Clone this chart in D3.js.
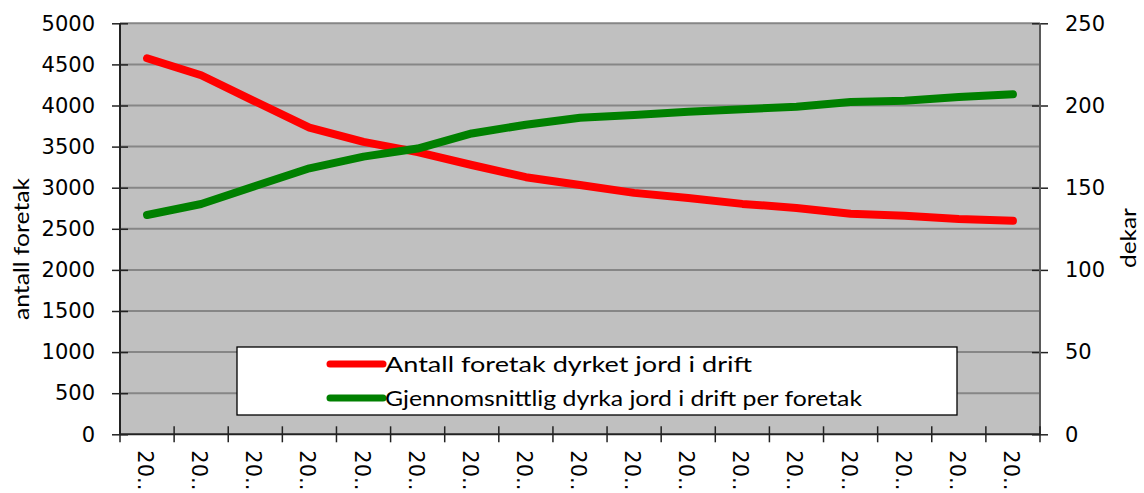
<!DOCTYPE html>
<html>
<head>
<meta charset="utf-8">
<script src="https://cdn.jsdelivr.net/npm/d3@7"></script>
<style>
  html, body { margin: 0; padding: 0; background: #fff; }
  svg { display: block; }
</style>
</head>
<body>
<svg id="chart" width="1144" height="493"></svg>
<script>
// Year labels along the category axis (truncated as displayed)
const yearLabels = ["20..", "20..", "20..", "20..", "20..", "20..", "20..", "20..", "20..",
                    "20..", "20..", "20..", "20..", "20..", "20..", "20..", "20.."];

// Number of holdings with cultivated land in use (left axis)
const antallForetak = [4575, 4368, 4048, 3732, 3558, 3432, 3276, 3128, 3033,
                       2937, 2876, 2803, 2754, 2682, 2660, 2620, 2597];

// Average cultivated area in use per holding, in decares (right axis)
const dekarPerForetak = [133.4, 140.1, 151.0, 161.8, 168.9, 173.8, 183.0, 188.3, 192.6,
                         194.2, 196.2, 197.7, 199.3, 202.1, 202.9, 205.1, 206.8];

const leftTicks = [0, 500, 1000, 1500, 2000, 2500, 3000, 3500, 4000, 4500, 5000];
const rightTicks = [0, 50, 100, 150, 200, 250];

const seriesNames = ["Antall foretak dyrket jord i drift",
                     "Gjennomsnittlig dyrka jord i drift per foretak"];
const seriesColors = ["#ff0000", "#008000"];

const svg = d3.select("#chart");
const margin = { left: 120, top: 23.3, right: 104, bottom: 58.7 };
const W = 1144, H = 493;
const pw = W - margin.left - margin.right;
const ph = H - margin.top - margin.bottom;

const idx = d3.range(yearLabels.length);
const x = d3.scaleBand().domain(idx).range([0, pw]).paddingInner(0).paddingOuter(0);
const yL = d3.scaleLinear().domain([0, 5000]).range([ph, 0]);
const yR = d3.scaleLinear().domain([0, 250]).range([ph, 0]);

const g = svg.append("g").attr("transform", `translate(${margin.left},${margin.top})`);

// plot background
g.append("rect").attr("width", pw).attr("height", ph).attr("fill", "#c0c0c0");

// horizontal gridlines
g.append("g").selectAll("line").data(leftTicks.filter(d => d > 0)).join("line")
  .attr("x1", 0).attr("x2", pw)
  .attr("y1", d => yL(d)).attr("y2", d => yL(d))
  .attr("stroke", "#868686").attr("stroke-width", 2);

const tickFont = "'DejaVu Sans', sans-serif";
const textFont = "Lato, 'Open Sans', sans-serif";
const plain = d3.format("d");

// left axis
const leftAxis = g.append("g").call(d3.axisLeft(yL).tickValues(leftTicks).tickFormat(plain)
  .tickSize(8).tickPadding(17));
leftAxis.select(".domain").remove();
leftAxis.selectAll(".tick line").attr("x2", 8).attr("x1", -8).attr("stroke", "#222").attr("stroke-width", 1.5);
leftAxis.selectAll(".tick text").attr("font-family", tickFont).attr("font-size", 21).attr("fill", "#000");
g.append("line").attr("x1", 0).attr("x2", 0).attr("y1", 0).attr("y2", ph)
  .attr("stroke", "#222").attr("stroke-width", 2);

// right axis
const rightAxis = g.append("g").attr("transform", `translate(${pw},0)`)
  .call(d3.axisRight(yR).tickValues(rightTicks).tickFormat(plain).tickSize(8).tickPadding(17));
rightAxis.select(".domain").remove();
rightAxis.selectAll(".tick line").attr("x1", -8).attr("x2", 8).attr("stroke", "#222").attr("stroke-width", 1.5);
rightAxis.selectAll(".tick text").attr("font-family", tickFont).attr("font-size", 21).attr("fill", "#000");
g.append("line").attr("x1", pw).attr("x2", pw).attr("y1", 0).attr("y2", ph)
  .attr("stroke", "#5a5a5a").attr("stroke-width", 2);

// bottom axis with ticks between categories
const bottom = g.append("g").attr("transform", `translate(0,${ph})`);
bottom.append("line").attr("x1", 0).attr("x2", pw).attr("stroke", "#222").attr("stroke-width", 2);
bottom.selectAll("line.tk").data(d3.range(yearLabels.length + 1)).join("line")
  .attr("class", "tk")
  .attr("x1", d => d * x.bandwidth()).attr("x2", d => d * x.bandwidth())
  .attr("y1", -8).attr("y2", 8)
  .attr("stroke", "#222").attr("stroke-width", 1.5);
bottom.selectAll("text").data(idx).join("text")
  .attr("transform", d => `translate(${x(d) + x.bandwidth() / 2 - 9},16) rotate(90)`)
  .attr("font-family", tickFont).attr("font-size", 21).attr("fill", "#000")
  .text(d => yearLabels[d]);

// series lines
const lineL = d3.line().x(d => x(d) + x.bandwidth() / 2).y(d => yL(antallForetak[d]));
const lineR = d3.line().x(d => x(d) + x.bandwidth() / 2).y(d => yR(dekarPerForetak[d]));

g.append("path").datum(idx).attr("d", lineL)
  .attr("fill", "none").attr("stroke", seriesColors[0]).attr("stroke-width", 8)
  .attr("stroke-linecap", "round").attr("stroke-linejoin", "round");
g.append("path").datum(idx).attr("d", lineR)
  .attr("fill", "none").attr("stroke", seriesColors[1]).attr("stroke-width", 8)
  .attr("stroke-linecap", "round").attr("stroke-linejoin", "round");

// legend
const legend = svg.append("g").attr("transform", "translate(237,347)");
legend.append("rect").attr("width", 720).attr("height", 68)
  .attr("fill", "#fff").attr("stroke", "#000").attr("stroke-width", 1.3);
const legendRows = [17, 51];
const legendWidths = [367, 477];
seriesNames.forEach((name, i) => {
  legend.append("line").attr("x1", 93).attr("x2", 146)
    .attr("y1", legendRows[i]).attr("y2", legendRows[i])
    .attr("stroke", seriesColors[i]).attr("stroke-width", 7).attr("stroke-linecap", "round");
  legend.append("text").attr("x", 148).attr("y", legendRows[i]).attr("dy", "0.36em")
    .attr("font-family", textFont).attr("font-size", 21).attr("fill", "#000")
    .attr("textLength", legendWidths[i]).attr("lengthAdjust", "spacingAndGlyphs")
    .text(name);
});

// axis titles
svg.append("text").attr("transform", "translate(29,249) rotate(-90)")
  .attr("text-anchor", "middle").attr("font-family", textFont).attr("font-size", 21)
  .attr("textLength", 142).attr("lengthAdjust", "spacingAndGlyphs")
  .text("antall foretak");
svg.append("text").attr("transform", "translate(1136,238) rotate(-90)")
  .attr("text-anchor", "middle").attr("font-family", textFont).attr("font-size", 21)
  .attr("textLength", 60).attr("lengthAdjust", "spacingAndGlyphs")
  .text("dekar");
</script>
</body>
</html>
